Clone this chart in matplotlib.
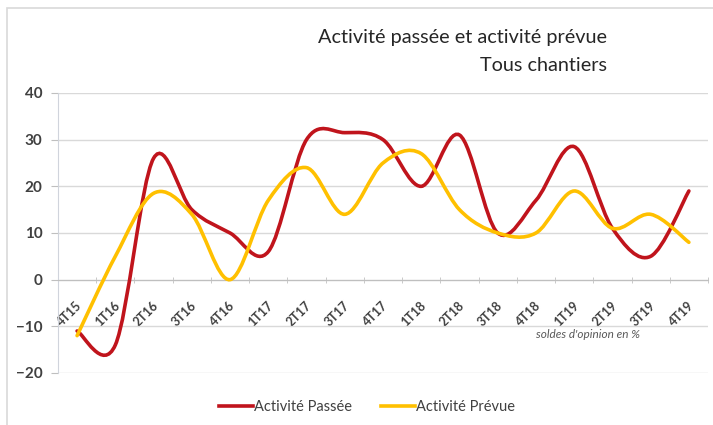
import matplotlib.pyplot as plt
from matplotlib.path import Path
from matplotlib.patches import PathPatch, Rectangle
from matplotlib.transforms import ScaledTranslation

quarters = [
    '4T15', '1T16', '2T16', '3T16', '4T16', '1T17', '2T17', '3T17', '4T17',
    '1T18', '2T18', '3T18', '4T18', '1T19', '2T19', '3T19', '4T19',
]
activite_passee = [-11, -14, 26, 15, 10, 6, 30, 31.5, 30, 20, 31, 10, 17, 28.5, 11, 5, 19]
activite_prevue = [-12, 5, 18.5, 14, 0, 17, 24, 14, 25, 27, 15, 10, 10, 19, 11, 14, 8]

RED = '#C0141C'
YELLOW = '#FFC000'
TEXT = '#404040'


def smooth_path(xs, ys):
    # Excel style smoothed line: cubic bezier through every point
    pts = list(zip(xs, ys))
    n = len(pts)
    verts = [pts[0]]
    codes = [Path.MOVETO]
    for i in range(n - 1):
        p0 = pts[max(i - 1, 0)]
        p1 = pts[i]
        p2 = pts[i + 1]
        p3 = pts[min(i + 2, n - 1)]
        c1 = (p1[0] + (p2[0] - p0[0]) / 6, p1[1] + (p2[1] - p0[1]) / 6)
        c2 = (p2[0] - (p3[0] - p1[0]) / 6, p2[1] - (p3[1] - p1[1]) / 6)
        verts += [c1, c2, p2]
        codes += [Path.CURVE4] * 3
    return Path(verts, codes)


def make_chart():
    plt.rcParams['font.family'] = ['Lato', 'DejaVu Sans']
    fig = plt.figure(figsize=(7.13, 4.25), dpi=100)
    ax = fig.add_axes([0.0813, 0.1224, 0.9117, 0.6588])

    # light frame around the chart
    fig.patches.append(Rectangle((0.010, -0.1), 1.2, 1.081, transform=fig.transFigure,
                                 fill=False, edgecolor='#D9D9D9', linewidth=1.2))

    xs = list(range(len(quarters)))
    for vals, color, label in [
        (activite_passee, RED, 'Activité Passée'),
        (activite_prevue, YELLOW, 'Activité Prévue'),
    ]:
        ax.add_patch(PathPatch(smooth_path(xs, vals), fill=False, edgecolor=color,
                               linewidth=2.6, capstyle='round', zorder=3))
        ax.plot([], [], color=color, linewidth=2.6, label=label)

    ax.set_xlim(-0.5, len(quarters) - 0.5)
    ax.set_ylim(-20, 40)
    ax.set_yticks(range(-20, 41, 10))
    ax.grid(axis='y', color='#D9D9D9', linewidth=1)
    ax.set_axisbelow(True)

    for s in ['top', 'right']:
        ax.spines[s].set_visible(False)
    ax.spines['left'].set_color('#D0D4DC')
    ax.spines['bottom'].set_position(('data', 0))
    ax.spines['bottom'].set_color('#BFBFBF')

    ax.tick_params(axis='y', colors='#BFBFBF', length=5, labelcolor=TEXT,
                   labelsize=11, pad=6)
    for lab in ax.get_yticklabels():
        lab.set_fontweight('bold')
    ax.set_xticks(xs)
    ax.set_xticklabels(quarters, rotation=45, ha='right', va='top',
                       fontweight='bold')
    ax.tick_params(axis='x', length=0, labelcolor=TEXT, labelsize=9, pad=14)
    shift = ScaledTranslation(5 / 72, 0, fig.dpi_scale_trans)
    for lab in ax.get_xticklabels():
        lab.set_transform(lab.get_transform() + shift)
    ax.set_xticks([x - 0.5 for x in range(len(quarters) + 1)], minor=True)
    ax.tick_params(axis='x', which='minor', length=5, direction='inout',
                   color='#BFBFBF')

    fig.text(0.852, 0.912, 'Activité passée et activité prévue', ha='right',
             va='center', fontsize=14.3, color='#262626')
    fig.text(0.852, 0.847, 'Tous chantiers', ha='right', va='center',
             fontsize=14.3, color='#262626')
    ax.text(13.35, -11.8, "soldes d'opinion en %", fontsize=8.5, style='italic',
            color='#595959', ha='center', va='center')

    fig.legend(loc='center', bbox_to_anchor=(0.515, 0.042), ncol=2, frameon=False,
               handlelength=2.3, handletextpad=0.1, columnspacing=2.0,
               fontsize=10.5, labelcolor=TEXT)

    fig.savefig('out.png', dpi=100)


if __name__ == '__main__':
    make_chart()
